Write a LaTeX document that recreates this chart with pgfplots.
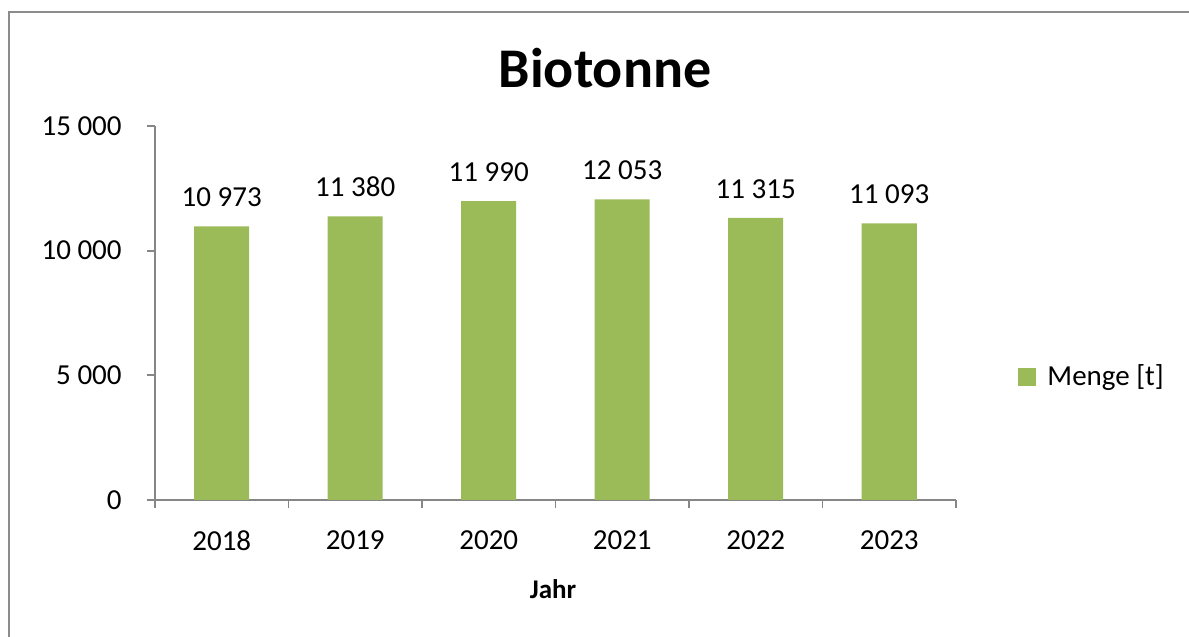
\documentclass[border=0pt]{standalone}
\usepackage{fontspec}
\setmainfont{Carlito}
\usepackage{pgfplots}
\usepackage{pgfplotstable}
\pgfplotsset{compat=1.18}
\definecolor{bargreen}{HTML}{9BBB59}
\definecolor{axgray}{HTML}{868686}
\definecolor{framegray}{HTML}{8C8C8C}
\pgfplotstableread[col sep=comma]{
x,y,label
0,10973,10 973
1,11380,11 380
2,11990,11 990
3,12053,12 053
4,11315,11 315
5,11093,11 093
}\datatable
\begin{document}
\begin{tikzpicture}
\useasboundingbox (-77.5pt,-68.5pt) rectangle (517pt,250pt);
\draw[framegray, line width=1pt] (-73pt,-75pt) -- (-73pt,244pt) -- (525pt,244pt);
\begin{axis}[
  at={(0pt,0pt)}, anchor=south west,
  scale only axis, width=400.5pt, height=187pt,
  xmin=-0.5, xmax=5.5, ymin=0, ymax=15000,
  axis x line*=bottom, axis y line*=left,
  axis line style={-, draw=axgray, line width=0.9pt},
  xtick={-0.5,0.5,1.5,2.5,3.5,4.5,5.5},
  x tick label as interval,
  xticklabels={2018,2019,2020,2021,2022,2023},
  scaled y ticks=false,
  ytick={0,5000,10000,15000},
  yticklabels={0,5 000,10 000,15 000},
  tick style={draw=axgray, line width=0.9pt},
  tick align=outside, major tick length=4pt,
  xticklabel style={font=\fontsize{14.5}{16}\selectfont, inner sep=0pt, anchor=north, yshift=-11pt},
  yticklabel style={font=\fontsize{14.5}{16}\selectfont, inner sep=0pt, anchor=east, xshift=-12.5pt},
  ybar, bar width=27.5pt,
  nodes near coords,
  point meta=explicit symbolic,
  every node near coord/.append style={font=\fontsize{14.5}{16}\selectfont, inner sep=0pt, anchor=south, yshift=9.5pt},
  legend style={at={(1.0775,0.329)}, anchor=west, draw=none, fill=none, font=\fontsize{14.5}{16}\selectfont, inner sep=0pt},
  legend image code/.code={\fill[bargreen] (0pt,-4.5pt) rectangle (9pt,4.5pt);},
  clip=false,
]
\addplot[fill=bargreen, draw=none] table[x=x, y=y, meta=label]{\datatable};
\addlegendentry{\hspace{3.5pt}Menge [t]}
\end{axis}
\node[anchor=base, font=\bfseries\fontsize{28}{32}\selectfont] at (225pt,206pt) {Biotonne};
\node[anchor=base, font=\bfseries\fontsize{13.5}{15}\selectfont] at (199pt,-49pt) {Jahr};
\end{tikzpicture}
\end{document}
